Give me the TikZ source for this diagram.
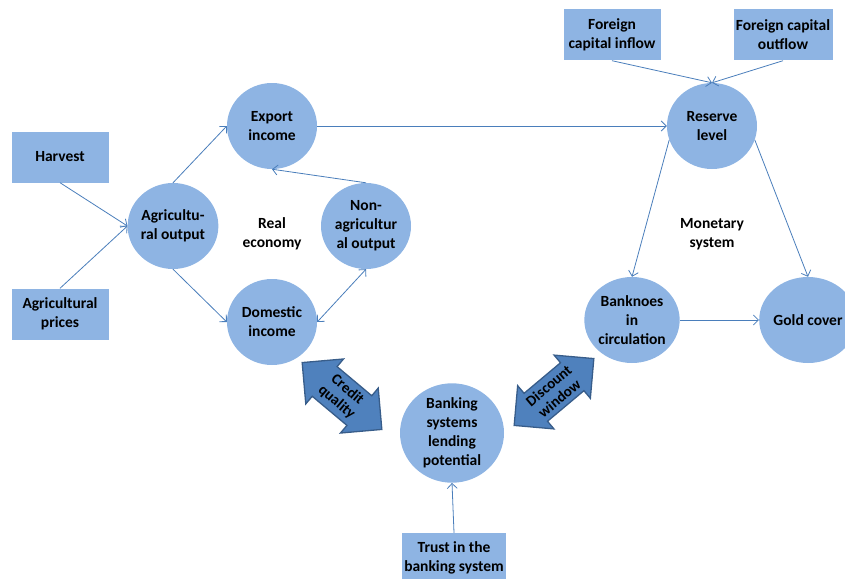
\documentclass[tikz,border=0pt]{standalone}
\usepackage{fontspec}
\setmainfont{Carlito}
\usetikzlibrary{shapes.geometric,shapes.arrows,arrows.meta}
\definecolor{lightfill}{HTML}{8EB4E3}
\definecolor{linecol}{HTML}{4A7EBB}
\definecolor{darkfill}{HTML}{4F81BD}
\definecolor{darkedge}{HTML}{385D8A}
\begin{document}
\begin{tikzpicture}[x=1pt,y=-1pt,
  txt/.style={align=center, font=\bfseries\fontsize{15.5}{19}\selectfont},
  bub/.style={txt, ellipse, fill=lightfill, minimum width=90pt, minimum height=86pt, inner sep=0pt},
  box/.style={txt, rectangle, fill=lightfill, minimum width=97pt, minimum height=51pt, inner sep=0pt},
  conn/.style={draw=linecol, line width=0.8pt, -{Straight Barb[length=5pt,width=10pt]}},
  bigarrow/.style={double arrow, draw=darkedge, fill=darkfill, line width=1.3pt,
    minimum height=104pt, double arrow head extend=10pt, double arrow head indent=0pt,
    inner xsep=0pt, inner ysep=4pt, align=center, font=\bfseries\fontsize{15}{16.5}\selectfont}]
\useasboundingbox (0,0) rectangle (845,578);
\clip (0,0) rectangle (845,578);
% boxes
\node[box] (harvest) at (60,157) {Harvest};
\node[box] (prices) at (60,314) {Agricultural\\prices};
\node[box] (inflow) at (612,35) {Foreign\\capital inflow};
\node[box, minimum width=99pt] (outflow) at (783,35) {Foreign capital\\outflow};
\node[box, minimum width=104pt, minimum height=50pt] (trust) at (454,558) {Trust in the\\banking system};
% bubbles
\node[bub] (agri) at (173,226) {Agricultu-\\ral output};
\node[bub] (export) at (272,126) {Export\\income};
\node[bub] (domestic) at (272,322) {Domestic\\income};
\node[bub] (nonagri) at (366,226) {Non-\\agricultur\\al output};
\node[bub] (reserve) at (712,126) {Reserve\\level};
\node[bub] (banknotes) at (632,320) {Banknoes\\in\\circulation};
\node[bub] (gold) at (808,320) {Gold cover};
\node[bub, minimum width=104pt, minimum height=88pt] (banking) at (452,433) {Banking\\systems\\lending\\potential};
% labels
\node[txt] (real) at (272,234) {Real\\economy};
\node[txt] (monetary) at (712,234) {Monetary\\system};
% big double arrows
\node[bigarrow, rotate=-40] (credit) at (342,396) {Credit\\quality};
\node[bigarrow, rotate=40] (discount) at (554,392) {Discount\\window};
% connectors
\draw[conn] (harvest.south) -- (agri.west);
\draw[conn] (prices.north) -- (agri.west);
\draw[conn] (agri.north) -- (export.west);
\draw[conn] (agri.south) -- (domestic.west);
\draw[conn] (nonagri.north) -- (export.south);
\draw[conn, {Straight Barb[length=5pt,width=10pt]}-{Straight Barb[length=5pt,width=10pt]}] (domestic.east) -- (nonagri.south);
\draw[conn] (export.east) -- (reserve.west);
\draw[conn] (inflow.south) -- (reserve.north);
\draw[conn] (outflow.south) -- (reserve.north);
\draw[conn] (reserve.198) -- (banknotes.north);
\draw[conn] (reserve.342) -- (gold.north);
\draw[conn] (banknotes.east) -- (gold.west);
\draw[conn] (trust.north) -- (banking.south);
\end{tikzpicture}
\end{document}
